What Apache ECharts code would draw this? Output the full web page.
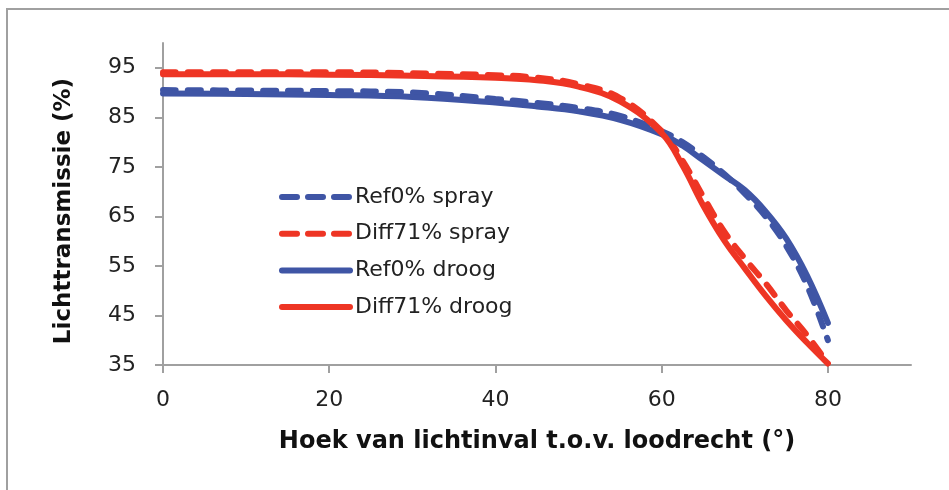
<!DOCTYPE html>
<html>
<head>
<meta charset="utf-8">
<script src="https://cdn.jsdelivr.net/npm/echarts@6/dist/echarts.min.js"></script>
<style>
  html, body { margin: 0; padding: 0; background: #fff; }
  #main { width: 949px; height: 490px; }
</style>
</head>
<body>
<div id="main"></div>
<script>
// hoek van lichtinval (graden)
const hoek = [0, 10, 20, 30, 40, 45, 50, 55, 60, 62.5, 65, 67.5, 70, 72.5, 75, 77.5, 80];
// lichttransmissie (%)
const ref0Spray   = [90.5, 90.4, 90.3, 90.0, 88.7, 87.9, 86.9, 85.3, 82.2, 80.0, 77.0, 73.6, 69.6, 65.0, 59.0, 51.0, 40.0];
const diff71Spray = [94.1, 94.1, 94.1, 93.9, 93.5, 93.0, 91.7, 88.9, 82.2, 76.3, 69.0, 62.0, 56.5, 51.5, 46.0, 41.0, 35.3];
const ref0Droog   = [89.8, 89.7, 89.5, 89.1, 88.0, 87.2, 86.2, 84.5, 81.6, 79.3, 76.3, 73.3, 70.3, 66.0, 60.5, 53.0, 43.5];
const diff71Droog = [93.7, 93.7, 93.6, 93.4, 93.0, 92.5, 91.2, 88.2, 81.8, 75.3, 67.2, 60.2, 54.5, 49.0, 44.0, 39.5, 35.3];

const reeksen = ['Ref0% spray', 'Diff71% spray', 'Ref0% droog', 'Diff71% droog'];
const xTicks = [0, 20, 40, 60, 80];
const yTicks = [35, 45, 55, 65, 75, 85, 95];

const blauw = '#3f55a5';
const rood = '#ee3524';
const font = 'DejaVu Sans';

const pairs = (ys) => hoek.map((x, i) => [x, ys[i]]);

function lijn(name, ys, color, dashed) {
    return {
        name: name,
        type: 'line',
        smooth: 0.4,
        symbol: 'none',
        data: pairs(ys),
        lineStyle: {
            color: color,
            width: 6,
            type: dashed ? [13, 12] : 'solid',
            cap: 'round'
        },
        itemStyle: { color: color }
    };
}

// legenda: streepjes iets langer dan in de grafiek
function legendItem(name, dashed) {
    return {
        name: name,
        lineStyle: { width: 6, cap: 'round', type: dashed ? [15, 11] : 'solid' }
    };
}

const chart = echarts.init(document.getElementById('main'));
chart.setOption({
    animation: false,
    backgroundColor: '#fff',
    textStyle: { fontFamily: font },
    graphic: [{
        type: 'rect',
        shape: { x: 7, y: 9, width: 1000, height: 1000 },
        style: { fill: 'none', stroke: '#a0a0a0', lineWidth: 2 },
        silent: true
    }],
    grid: { left: 163, right: 38, top: 43, bottom: 125 },
    legend: {
        orient: 'vertical',
        left: 274,
        top: 181,
        itemWidth: 68,
        itemHeight: 22,
        itemGap: 14.7,
        itemStyle: { opacity: 0 },
        lineStyle: { width: 6, cap: 'round' },
        textStyle: { fontFamily: font, fontSize: 22, color: '#222' },
        data: [
            legendItem(reeksen[0], true),
            legendItem(reeksen[1], true),
            legendItem(reeksen[2], false),
            legendItem(reeksen[3], false)
        ]
    },
    xAxis: {
        type: 'value',
        min: 0,
        max: 90,
        name: 'Hoek van lichtinval t.o.v. loodrecht (°)',
        nameLocation: 'middle',
        nameGap: 65,
        nameTextStyle: { fontFamily: font, fontSize: 24, fontWeight: 'bold', color: '#111' },
        axisLine: { lineStyle: { color: '#a0a0a0', width: 2 } },
        axisTick: { show: true, length: 8, lineStyle: { color: '#a0a0a0', width: 2 }, customValues: xTicks },
        axisLabel: { fontFamily: font, fontSize: 22, color: '#222', margin: 24, customValues: xTicks },
        splitLine: { show: false }
    },
    yAxis: {
        type: 'value',
        min: 35,
        max: 100,
        name: 'Lichttransmissie (%)',
        nameLocation: 'middle',
        nameRotate: 90,
        nameGap: 87,
        nameTextStyle: { fontFamily: font, fontSize: 23, fontWeight: 'bold', color: '#111', padding: [0, 14, 0, 0] },
        axisLine: { show: true, lineStyle: { color: '#a0a0a0', width: 2 } },
        axisTick: { show: true, length: 8, lineStyle: { color: '#a0a0a0', width: 2 }, customValues: yTicks },
        axisLabel: { fontFamily: font, fontSize: 22, color: '#222', margin: 27, customValues: yTicks },
        splitLine: { show: false }
    },
    series: [
        lijn(reeksen[0], ref0Spray, blauw, true),
        lijn(reeksen[1], diff71Spray, rood, true),
        lijn(reeksen[2], ref0Droog, blauw, false),
        lijn(reeksen[3], diff71Droog, rood, false)
    ]
});
</script>
</body>
</html>
